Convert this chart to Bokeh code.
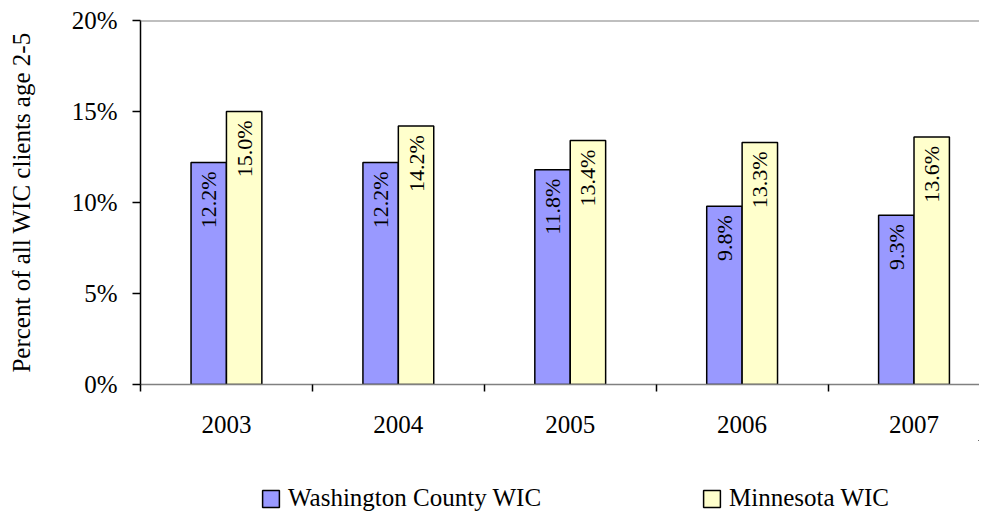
import numpy as np
from bokeh.plotting import figure
from bokeh.layouts import column
from bokeh.models import Range1d, FixedTicker, Legend, LegendItem, ColumnDataSource, Span
from bokeh.embed import file_html
from bokeh.resources import INLINE
from bokeh.core.properties import value

years = ["2003", "2004", "2005", "2006", "2007"]
washington = [12.2, 12.2, 11.8, 9.8, 9.3]
minnesota = [15.0, 14.2, 13.4, 13.3, 13.6]
y_ticks = [0, 5, 10, 15, 20]
y_tick_labels = ["0%", "5%", "10%", "15%", "20%"]
series_names = ["Washington County WIC", "Minnesota WIC"]
y_title = "Percent of all WIC clients age 2-5"

FONT = "Liberation Serif"
BAR_W = 0.206
COL_W = "#9999FF"
COL_M = "#FFFFCC"

centers = [i + 0.5 for i in range(len(years))]
src_w = ColumnDataSource(dict(
    x=[c - BAR_W / 2 for c in centers], top=washington,
    lab=[f"{v:.1f}%" for v in washington]))
src_m = ColumnDataSource(dict(
    x=[c + BAR_W / 2 for c in centers], top=minnesota,
    lab=[f"{v:.1f}%" for v in minnesota]))

p = figure(width=979, height=440, output_backend="svg", toolbar_location=None,
           x_range=Range1d(0, 4.881), y_range=Range1d(0, 20),
           min_border_left=140, min_border_right=0, min_border_top=20,
           min_border_bottom=56)
p.outline_line_color = None
p.xgrid.visible = False
p.ygrid.visible = False
p.background_fill_color = "white"

r_w = p.vbar(x="x", top="top", width=BAR_W, source=src_w,
             fill_color=COL_W, line_color="black", line_width=1.5)
r_m = p.vbar(x="x", top="top", width=BAR_W, source=src_m,
             fill_color=COL_M, line_color="black", line_width=1.5)

for src in (src_w, src_m):
    p.text(x="x", y="top", text="lab", source=src, angle=np.pi / 2,
           text_align="right", text_baseline="middle", y_offset=9,
           text_font=value(FONT), text_font_size="22px", text_color="black")

p.add_layout(Span(location=20, dimension="width", line_color="#808080", line_width=2))

# y axis
ya = p.yaxis[0]
ya.ticker = FixedTicker(ticks=y_ticks)
ya.major_label_overrides = {t: l for t, l in zip(y_ticks, y_tick_labels)}
ya.major_tick_out = 8
ya.major_tick_in = 0
ya.minor_tick_line_color = None
ya.axis_line_color = "black"
ya.axis_line_width = 1.5
ya.major_tick_line_color = "black"
ya.major_tick_line_width = 1.5
ya.major_label_standoff = 15
ya.major_label_text_font = FONT
ya.major_label_text_font_size = "25px"
ya.major_label_text_color = "black"
ya.axis_label = y_title
ya.axis_label_text_font = FONT
ya.axis_label_text_font_size = "25px"
ya.axis_label_text_font_style = "normal"
ya.axis_label_text_color = "black"
ya.axis_label_standoff = 34

# x axis
xa = p.xaxis[0]
xa.ticker = FixedTicker(ticks=centers, minor_ticks=list(range(len(years) + 1)))
xa.major_label_overrides = {c: y for c, y in zip(centers, years)}
xa.major_tick_line_color = None
xa.minor_tick_out = 7
xa.minor_tick_in = 0
xa.minor_tick_line_color = "black"
xa.minor_tick_line_width = 1.5
xa.axis_line_color = "#808080"
xa.axis_line_width = 1.5
xa.major_label_standoff = 24
xa.major_label_text_font = FONT
xa.major_label_text_font_size = "25px"
xa.major_label_text_color = "black"

# legend strip below the chart (its bars sit far outside its visible ranges)
lf = figure(width=979, height=73, output_backend="svg", toolbar_location=None,
            x_range=Range1d(-1000, -995), y_range=Range1d(-1000, -927),
            min_border_left=0, min_border_right=0, min_border_top=0,
            min_border_bottom=0, x_axis_type=None, y_axis_type=None)
lf.outline_line_color = None
lf.xgrid.visible = False
lf.ygrid.visible = False
lw = lf.vbar(x="x", top="top", width=BAR_W, source=src_w,
             fill_color=COL_W, line_color="black", line_width=1.5)
lm = lf.vbar(x="x", top="top", width=BAR_W, source=src_m,
             fill_color=COL_M, line_color="black", line_width=1.5)

legend = Legend(items=[LegendItem(label=series_names[0], renderers=[lw]),
                       LegendItem(label=series_names[1], renderers=[lm])],
                orientation="horizontal", location=(120, 1),
                glyph_width=21, glyph_height=21, label_standoff=7, spacing=160,
                label_text_font=FONT, label_text_font_size="25px",
                label_text_color="black", border_line_color=None,
                background_fill_alpha=0, padding=0, margin=0)
lf.add_layout(legend, "center")

layout = column(p, lf, spacing=0)
open("out.html", "w").write(file_html(layout, INLINE))
